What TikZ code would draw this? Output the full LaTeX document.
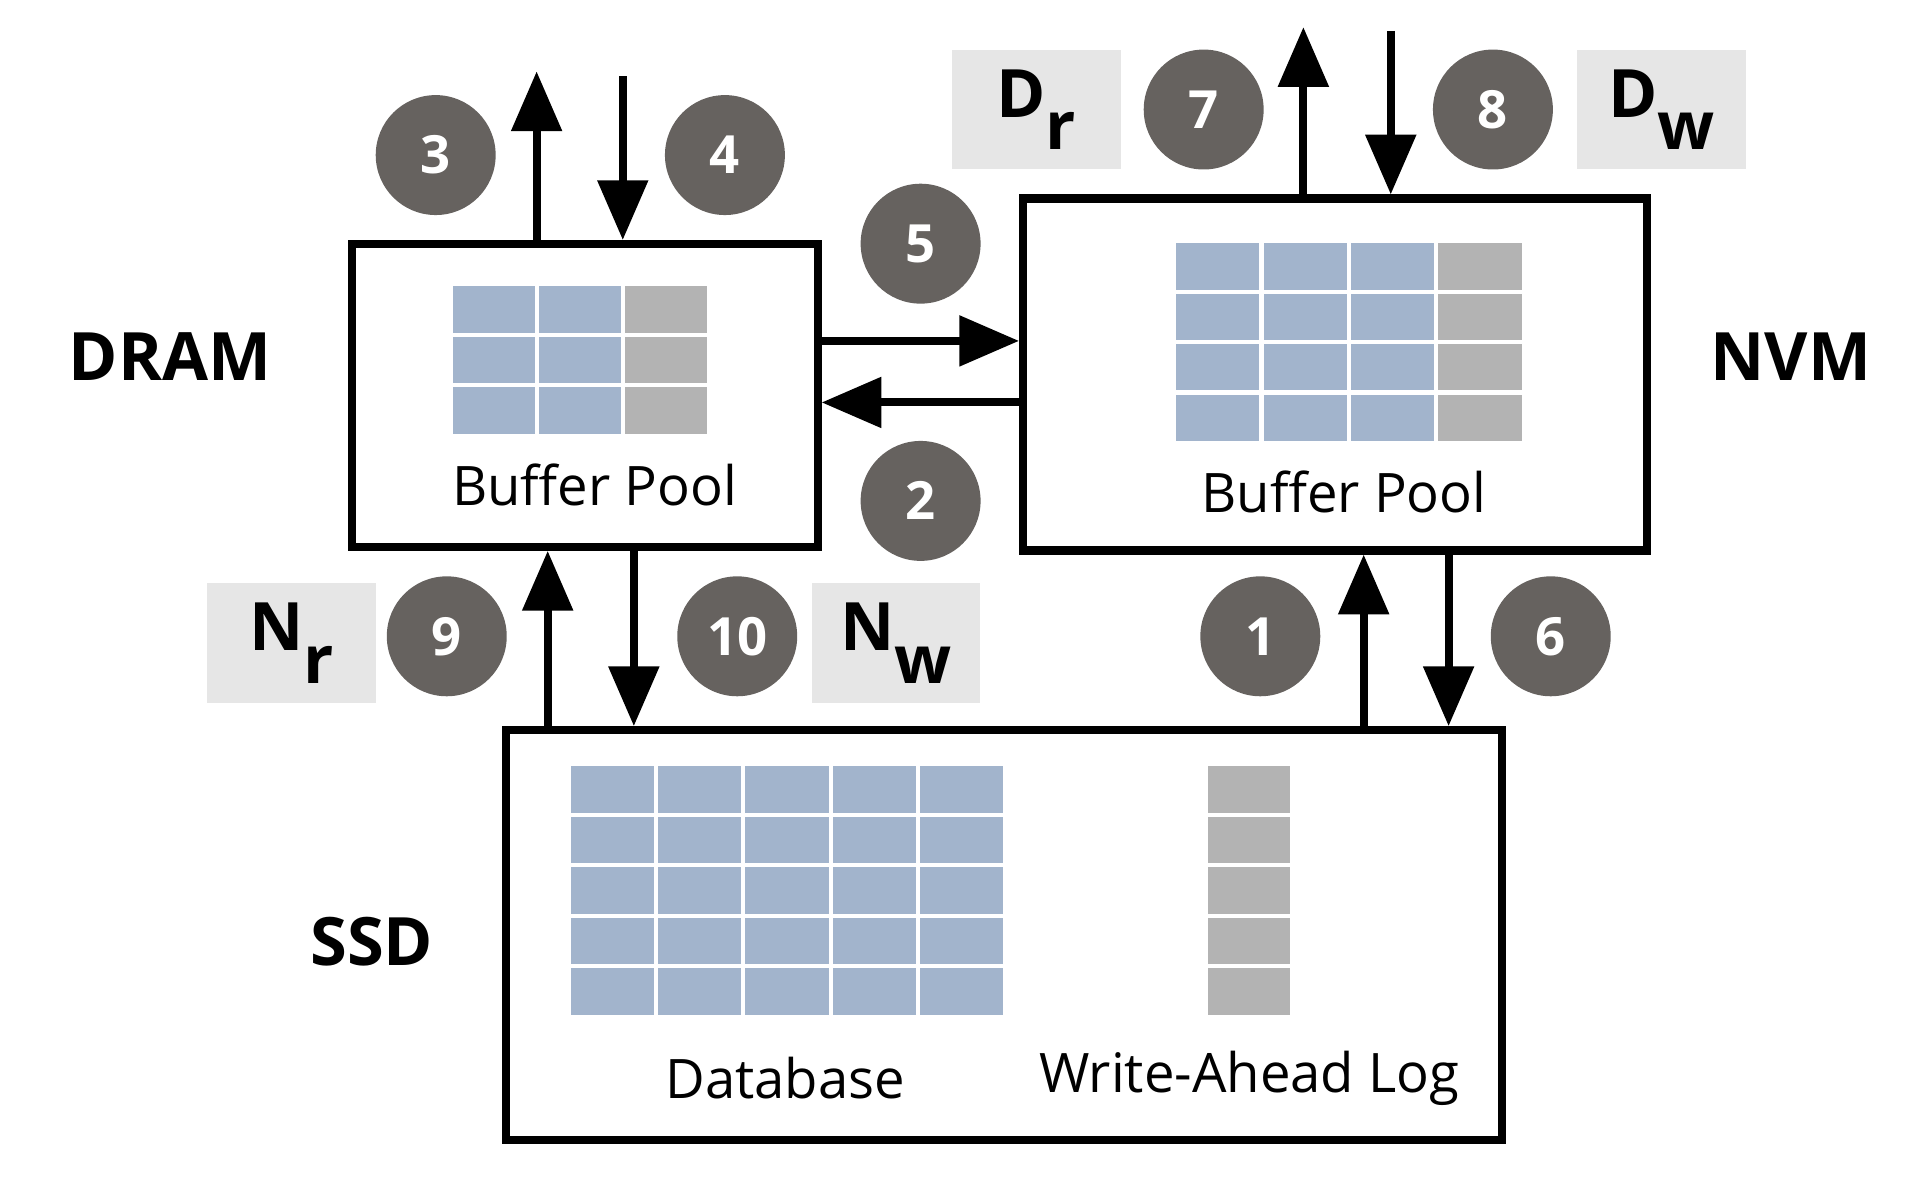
\documentclass[tikz,border=0pt]{standalone}
\usepackage{fontspec}
\setmainfont{Open Sans}
\usetikzlibrary{arrows.meta,positioning}
\definecolor{cellblue}{HTML}{A2B4CC}
\definecolor{cellgray}{HTML}{B3B3B3}
\definecolor{stepgray}{HTML}{66625F}
\definecolor{tagbg}{HTML}{E6E6E6}
\tikzset{
  box/.style={draw,line width=2.3pt,anchor=north west,inner sep=0pt},
  blue cell/.style={fill=cellblue,draw=white,line width=1.2pt},
  gray cell/.style={fill=cellgray,draw=white,line width=1.2pt},
  stepnum/.style={circle,fill=stepgray,minimum size=1.2cm,inner sep=0pt,
    text=white,font=\fontsize{15}{15}\selectfont\bfseries},
  tag/.style={fill=tagbg,anchor=north west,inner sep=0pt},
  memlabel/.style={font=\fontsize{19}{19}\selectfont\bfseries},
  caption/.style={font=\fontsize{15.5}{15.5}\selectfont},
  flow/.style={line width=2.3pt,-{Triangle[width=14pt,length=17pt]}}
}
% draws a grid of cells: x0,y0,cols,rows,cellw,cellh,style
\newcommand{\cellgrid}[7]{%
  \foreach \i in {1,...,#3}{\foreach \j in {1,...,#4}{%
    \draw[#7] ({#1+(\i-1)*#5},{#2+(\j-1)*#6}) rectangle ++(#5,#6);}}}
\begin{document}
\begin{tikzpicture}[x=0.01231cm,y=-0.01231cm]
  \useasboundingbox (0,0) rectangle (1560,963);

  % memory boxes
  \node[box,minimum width=378*0.01231cm,minimum height=246*0.01231cm] (dram) at (283,195) {};
  \node[box,minimum width=507*0.01231cm,minimum height=286*0.01231cm] (nvm) at (828,158) {};
  \node[box,minimum width=809*0.01231cm,minimum height=333*0.01231cm] (ssd) at (408,590) {};

  % pages
  \cellgrid{366}{231}{2}{3}{70}{41}{blue cell}
  \cellgrid{506}{231}{1}{3}{70}{41}{gray cell}
  \cellgrid{954}{196}{3}{4}{71}{41}{blue cell}
  \cellgrid{1167}{196}{1}{4}{71}{41}{gray cell}
  \cellgrid{462}{621}{5}{5}{71}{41}{blue cell}
  \cellgrid{980}{621}{1}{5}{70}{41}{gray cell}

  \node[memlabel] (dramlbl) at (138,290) {DRAM};
  \node[memlabel] (nvmlbl) at (1455,290) {NVM};
  \node[memlabel] (ssdlbl) at (302,765) {SSD};
  \node[caption] (dbp) at (483,394) {Buffer Pool};
  \node[caption] (nbp) at (1092,400) {Buffer Pool};
  \node[caption] (db) at (638,876) {Database};
  \node[caption] (wal) at (1015,876) {Write-Ahead Log};

  % cost tags
  \node[tag,minimum width=137*0.01231cm,minimum height=97*0.01231cm] (dr) at (773,40) {};
  \node[memlabel] at (dr) {D\raisebox{-0.9ex}{r}};
  \node[tag,minimum width=137*0.01231cm,minimum height=97*0.01231cm] (dw) at (1281,40) {};
  \node[memlabel] at (dw) {D\raisebox{-0.9ex}{w}};
  \node[tag,minimum width=137*0.01231cm,minimum height=98*0.01231cm] (nr) at (168,473) {};
  \node[memlabel] at (nr) {N\raisebox{-0.9ex}{r}};
  \node[tag,minimum width=137*0.01231cm,minimum height=98*0.01231cm] (nw) at (659,473) {};
  \node[memlabel] at (nw) {N\raisebox{-0.9ex}{w}};

  % steps
  \node[stepnum] (s1) at (1024,517) {1};
  \node[stepnum] (s2) at (748,407) {2};
  \node[stepnum] (s3) at (354,126) {3};
  \node[stepnum] (s4) at (589,126) {4};
  \node[stepnum] (s5) at (748,198) {5};
  \node[stepnum] (s6) at (1260,517) {6};
  \node[stepnum] (s7) at (978,89) {7};
  \node[stepnum] (s8) at (1213,89) {8};
  \node[stepnum] (s9) at (363,517) {9};
  \node[stepnum] (s10) at (599,517) {10};

  % arrows
  \coordinate (dup) at (436,58);
  \coordinate (ddown) at (506,62);
  \coordinate (nup) at (1059,22);
  \coordinate (ndown) at (1130,25);
  \coordinate (xa) at (445,0);
  \coordinate (xb) at (515,0);
  \coordinate (xc) at (1108,0);
  \coordinate (xd) at (1177,0);
  \coordinate (ya) at (0,277);
  \coordinate (yb) at (0,327);
  \draw[flow] (dram.north -| dup) -- (dup);
  \draw[flow] (ddown) -- (dram.north -| ddown);
  \draw[flow] (nvm.north -| nup) -- (nup);
  \draw[flow] (ndown) -- (nvm.north -| ndown);
  \draw[flow] (dram.east |- ya) -- (nvm.west |- ya);
  \draw[flow] (nvm.west |- yb) -- (dram.east |- yb);
  \draw[flow] (ssd.north -| xa) -- (dram.south -| xa);
  \draw[flow] (dram.south -| xb) -- (ssd.north -| xb);
  \draw[flow] (ssd.north -| xc) -- (nvm.south -| xc);
  \draw[flow] (nvm.south -| xd) -- (ssd.north -| xd);
\end{tikzpicture}
\end{document}
